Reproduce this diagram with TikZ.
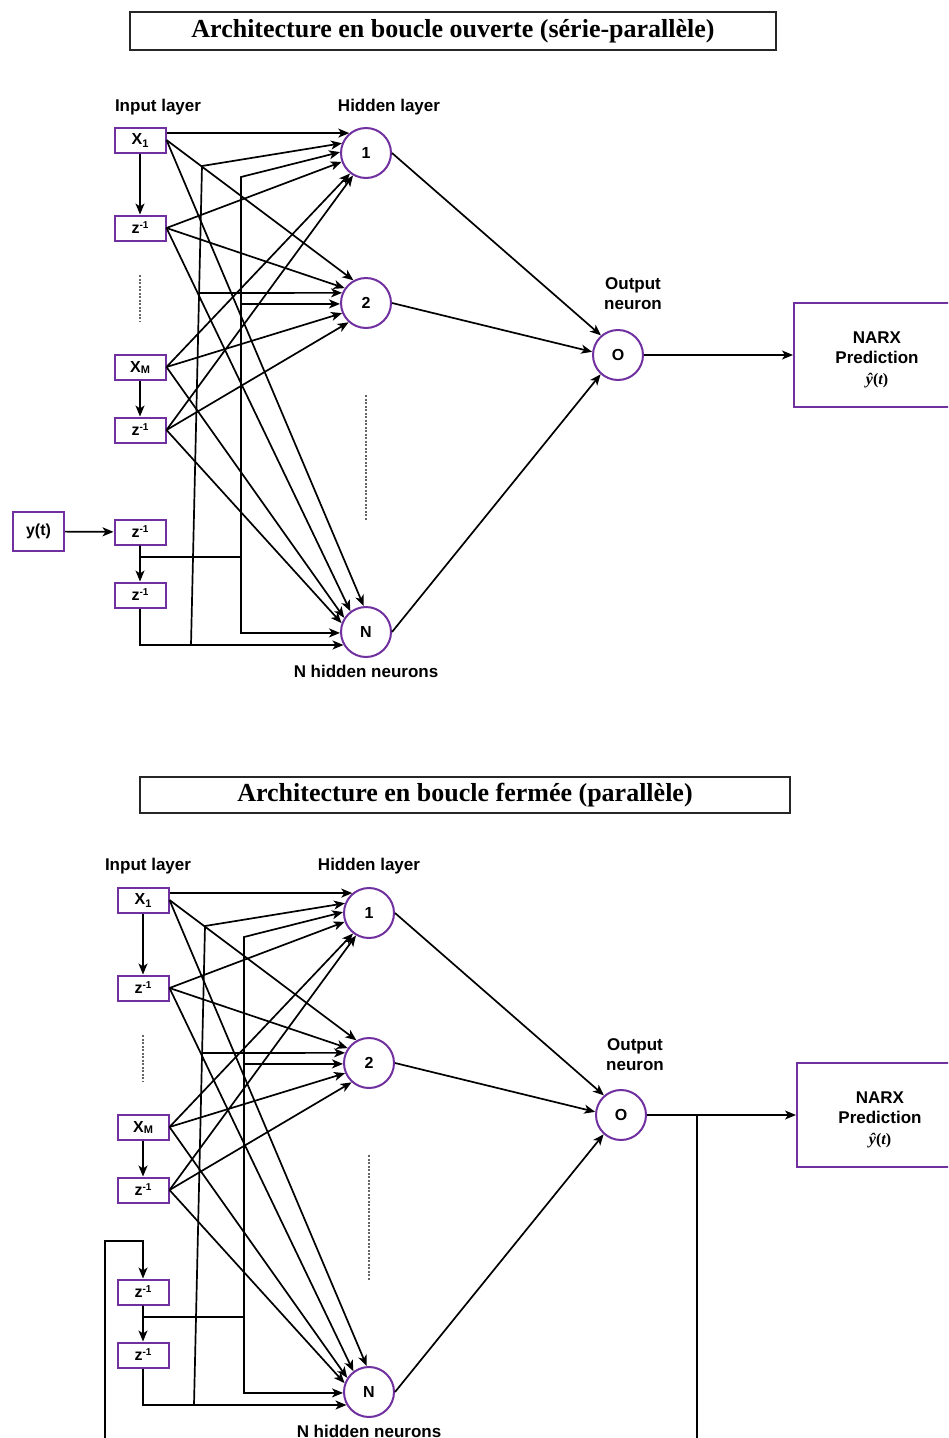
\documentclass[tikz,border=0pt]{standalone}
\usepackage{fontspec}
\setmainfont{Liberation Sans}
\newfontfamily\headserif{Liberation Serif}
\usetikzlibrary{arrows.meta}
\definecolor{neuronpurple}{HTML}{7030A0}

\tikzset{
  layerlabel/.style={inner sep=0pt, font=\fontsize{17}{20}\selectfont\bfseries},
  inbox/.style={rectangle, draw=neuronpurple, line width=2pt, minimum width=51pt,
    minimum height=25pt, inner sep=0pt, font=\fontsize{16}{18}\selectfont\bfseries},
  neuron/.style={circle, draw=neuronpurple, line width=2pt, minimum size=50pt,
    inner sep=0pt, font=\fontsize{16}{18}\selectfont\bfseries},
  predbox/.style={rectangle, draw=neuronpurple, line width=2pt, minimum width=166pt,
    minimum height=104pt, inner sep=0pt, align=center,
    font=\fontsize{17}{20}\selectfont\bfseries},
  titlebox/.style={rectangle, draw=black!85, line width=1.4pt, inner sep=0pt,
    font=\headserif\fontsize{26}{30}\selectfont\bfseries},
  link/.style={draw=black, line width=1.7pt, -{Stealth[length=11pt,width=9pt,inset=3pt]}},
  elide/.style={draw=black!60, line width=1.2pt, dash pattern=on 2pt off 1.5pt},
}

\newcommand\zinv{z\raisebox{5pt}{\fontsize{10}{10}\selectfont -1}}
\newcommand\yhatt{{\headserif\fontsize{16}{18}\selectfont\bfseries\itshape ŷ\upshape(\itshape t\upshape)}}

% one NARX network: delay inputs, hidden layer, output neuron, prediction box
\newcommand\narxnet[1]{%
  \node[inbox] (#1x1) at (140,140) {X\raisebox{-3pt}{\fontsize{11}{11}\selectfont 1}};
  \node[inbox] (#1z1) at (140,228) {\zinv};
  \node[inbox] (#1xm) at (140,367) {X\raisebox{-1pt}{\fontsize{11}{11}\selectfont M}};
  \node[inbox] (#1z2) at (140,430) {\zinv};
  \node[inbox] (#1z3) at (140,532) {\zinv};
  \node[inbox] (#1z4) at (140,595) {\zinv};
  \node[neuron] (#1h1) at (366,153) {1};
  \node[neuron] (#1h2) at (366,303) {2};
  \node[neuron] (#1hn) at (366,632) {N};
  \node[neuron] (#1o) at (618,355) {O};
  \node[predbox] (#1pred) at (877,355)
    {\rule{0pt}{21pt}NARX\\Prediction\\[1pt]\yhatt};
  % elided inputs and hidden neurons
  \coordinate (#1ea) at (140,275);
  \coordinate (#1eb) at (140,322);
  \coordinate (#1ec) at (366,395);
  \coordinate (#1ed) at (366,520);
  \draw[elide] (#1ea) -- (#1eb);
  \draw[elide] (#1ec) -- (#1ed);
  % delay chains
  \draw[link] (#1x1) -- (#1z1);
  \draw[link] (#1xm) -- (#1z2);
  \draw[link] (#1z3) -- (#1z4);
  % inputs to hidden neurons
  \draw[link] (#1x1.east |- #1h1.130) -- (#1h1.130);
  \draw[link] (#1x1.east) -- (#1h2.119);
  \draw[link] (#1x1.east) -- (#1hn.95);
  \draw[link] (#1z1.east) -- (#1h1.200);
  \draw[link] (#1z1.east) -- (#1h2.145);
  \draw[link] (#1z1.east) -- (#1hn.127);
  \draw[link] (#1xm.east) -- (#1h1.232);
  \draw[link] (#1xm.east) -- (#1h2.203);
  \draw[link] (#1xm.east) -- (#1hn.147);
  \draw[link] (#1z2.east) -- (#1h1.240);
  \draw[link] (#1z2.east) -- (#1h2.228);
  \draw[link] (#1z2.east) -- (#1hn.160);
  % first delayed output: rail at x=241
  \coordinate (#1r3) at (241,557);
  \coordinate (#1r3t) at (241,177);
  \draw[link] (#1z3.south) |- (#1r3) -- (#1r3t) -- (#1h1.178);
  \draw[link] (#1r3) -- (#1r3 |- #1h2.182) -- (#1h2.182);
  \draw[link] (#1r3) -- (#1r3 |- #1hn.182) -- (#1hn.182);
  % second delayed output: slanted rail
  \coordinate (#1r4b) at (191,645);
  \coordinate (#1r4t) at (202,166);
  \coordinate (#1r4m) at (199,293);
  \draw[link] (#1z4.south) |- (#1hn.210);
  \draw[link] (#1r4b) -- (#1r4t) -- (#1h1.158);
  \draw[link] (#1r4m) -- (#1h2.157);
  % hidden to output
  \draw[link] (#1h1.east) -- (#1o.131);
  \draw[link] (#1h2.east) -- (#1o.173);
  \draw[link] (#1hn.east) -- (#1o.228);
  \draw[link] (#1o) -- (#1pred);
}

\begin{document}
\begin{tikzpicture}[x=1pt, y=-1pt]
  \useasboundingbox (0,0) rectangle (948,1438);
  \fill[white] (0,0) rectangle (948,1438);
  \clip (0,0) rectangle (948,1438);

  % ---------- open loop (series-parallel) ----------
  \node[titlebox, minimum width=646pt, minimum height=38pt] (ttitle) at (453,31)
    {Architecture en boucle ouverte (série-parallèle)};
  \node[layerlabel, anchor=base] (tinlab) at (158,111) {Input layer};
  \node[layerlabel, anchor=base] (thidlab) at (389,111) {Hidden layer};
  \node[layerlabel, align=center] (toutlab) at (633,294) {Output\\neuron};
  \node[layerlabel, anchor=base] (tnlab) at (366,677) {N hidden neurons};
  \begin{scope}
    \narxnet{t}
    \node[inbox, minimum height=39pt] (tyt) at (38.5,531.5) {y(t)};
    \draw[link] (tyt) -- (tz3);
  \end{scope}

  % ---------- closed loop (parallel) ----------
  \node[titlebox, minimum width=650pt, minimum height=36pt] (btitle) at (465,795)
    {Architecture en boucle fermée (parallèle)};
  \node[layerlabel, anchor=base] (binlab) at (148,870) {Input layer};
  \node[layerlabel, anchor=base] (bhidlab) at (369,870) {Hidden layer};
  \node[layerlabel, align=center] (boutlab) at (635,1055) {Output\\neuron};
  \node[layerlabel, anchor=base] (bnlab) at (369,1437) {N hidden neurons};
  \begin{scope}[shift={(3,760)}]
    \narxnet{b}
    % feedback of the prediction into the delay line
    \coordinate (bj) at (694,355);
    \coordinate (bd) at (694,720);
    \coordinate (bl) at (102,720);
    \coordinate (bu) at (102,481);
    \draw[link] (bj) -- (bd) -- (bl) -- (bu) -| (bz3.north);
  \end{scope}
\end{tikzpicture}
\end{document}
